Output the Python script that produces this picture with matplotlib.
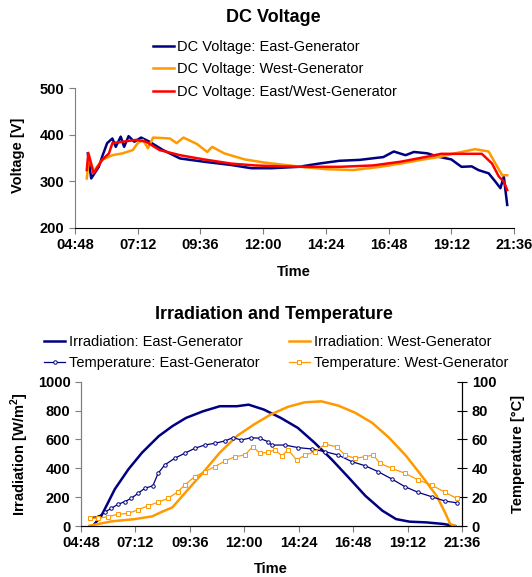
import numpy as np
import matplotlib.pyplot as plt

plt.rcParams['font.family'] = ['Liberation Sans', 'DejaVu Sans']
plt.rcParams['mathtext.fontset'] = 'custom'
plt.rcParams['mathtext.bf'] = 'Liberation Sans:bold'
plt.rcParams['mathtext.rm'] = 'Liberation Sans'

# DC voltage (time in hours, volts)
t_east = [5.29, 5.42, 5.71, 5.84, 6.03, 6.23, 6.36, 6.55, 6.68, 6.85, 7.07, 7.33, 7.65, 8.17,
          8.82, 9.73, 10.77, 11.55, 12.32, 13.36, 14.14, 14.92, 15.70, 16.6, 17.0, 17.45,
          17.77, 18.29, 18.68, 19.2, 19.59, 19.98, 20.24, 20.63, 20.89, 21.08, 21.21, 21.34]
v_east = [360, 306, 331, 353, 382, 392, 374, 396, 374, 397, 385, 394, 385, 367,
          349, 342, 335, 328, 328, 331, 338, 344, 346, 352, 364, 356,
          363, 360, 353, 347, 331, 332, 324, 317, 299, 285, 310, 249]

t_west = [5.25, 5.34, 5.51, 5.84, 6.23, 6.62, 7.01, 7.2, 7.4, 7.59, 7.79, 8.43, 8.69, 8.95,
          9.47, 9.86, 10.05, 10.51, 11.29, 12.07, 12.85, 13.62, 14.4, 15.44, 16.48, 17.26,
          18.04, 18.81, 19.33, 20.11, 20.63, 20.89, 21.15, 21.34]
v_west = [306, 353, 321, 346, 356, 360, 367, 382, 389, 371, 394, 392, 382, 394,
          380, 363, 374, 360, 347, 340, 335, 330, 326, 324, 331, 338,
          346, 353, 360, 369, 364, 338, 313, 313]

t_ew = [5.25, 5.31, 5.51, 5.84, 6.1, 6.23, 6.62, 7.14, 7.52, 8.04, 8.82, 9.73, 10.77, 11.68,
        12.72, 13.62, 14.92, 16.21, 17.26, 18.29, 18.81, 19.46, 20.37, 20.76, 21.02, 21.21, 21.34]
v_ew = [324, 361, 317, 346, 360, 382, 385, 389, 385, 367, 356, 347, 338, 334,
        332, 331, 331, 334, 342, 353, 359, 359, 359, 338, 310, 299, 281]

# Irradiation (W/m2)
t_irr_e = [5.32, 5.7, 6.29, 6.89, 7.49, 8.23, 8.83, 9.43, 10.18, 10.92, 11.67, 12.19, 12.86,
           13.61, 14.36, 15.1, 15.85, 16.6, 17.34, 18.09, 18.69, 19.29, 20.03, 20.78, 21.3]
irr_e = [0, 71, 255, 393, 508, 623, 692, 749, 795, 830, 830, 841, 807,
         749, 680, 577, 462, 336, 209, 106, 48, 30, 25, 14, 0]

t_irr_w = [5.17, 6.14, 7.19, 7.94, 8.38, 8.83, 9.43, 10.18, 10.92, 11.67, 12.42, 13.16, 13.91,
           14.66, 15.4, 16.15, 16.9, 17.64, 18.39, 19.14, 19.88, 20.48, 20.85, 21.08, 21.3]
irr_w = [2, 32, 48, 67, 99, 129, 237, 370, 508, 623, 703, 772, 825,
         857, 864, 834, 784, 715, 611, 485, 336, 209, 94, 14, 0]

# Module temperature (deg C)
t_tmp_e = [5.18, 5.55, 5.84, 6.14, 6.43, 6.73, 7.02, 7.31, 7.61, 7.97, 8.20, 8.49, 8.93, 9.37,
           9.81, 10.25, 10.69, 11.14, 11.50, 11.87, 12.31, 12.68, 13.05, 13.21, 13.79, 14.38,
           14.97, 15.56, 16.14, 16.74, 17.32, 17.91, 18.50, 19.09, 19.67, 20.26, 20.85, 21.36]
tmp_e = [5.8, 6.5, 9.5, 12.3, 15.0, 16.9, 19.2, 22.6, 26.1, 27.9, 36.5, 42.3, 46.9, 50.4,
         53.8, 56.1, 57.3, 58.9, 61.2, 59.6, 61.2, 60.8, 58.4, 56.1, 56.1, 54.3,
         53.4, 51.5, 49.2, 44.6, 41.8, 37.6, 32.6, 27.2, 23.3, 20.3, 17.3, 16.1]

t_tmp_w = [5.18, 5.55, 5.99, 6.43, 6.87, 7.31, 7.76, 8.20, 8.64, 9.08, 9.37, 9.81, 10.25, 10.69,
           11.14, 11.58, 12.02, 12.38, 12.68, 13.05, 13.36, 13.65, 13.94, 14.31, 14.68, 15.12,
           15.56, 16.07, 16.44, 16.88, 17.32, 17.69, 17.98, 18.50, 19.09, 19.67, 20.26, 20.85,
           21.36]
tmp_w = [5.3, 5.3, 6.5, 8.1, 8.8, 11.1, 14.1, 16.4, 19.2, 23.8, 28.4, 34.2, 37.6, 41.1,
         45.0, 48.0, 49.2, 55.0, 50.4, 51.1, 52.7, 48.7, 52.7, 45.7, 49.2, 51.5,
         56.6, 55.0, 49.2, 46.9, 48.0, 49.2, 43.4, 40.0, 36.5, 31.9, 28.4, 23.3,
         19.2]

xticks = [4.8, 7.2, 9.6, 12.0, 14.4, 16.8, 19.2, 21.6]
xlabels = ['04:48', '07:12', '09:36', '12:00', '14:24', '16:48', '19:12', '21:36']

navy = '#000080'
orange = '#FF9900'
red = '#FF0000'
W, H = 532, 577

fig = plt.figure(figsize=(W / 100, H / 100), dpi=100)


def style(ax):
    ax.spines['top'].set_visible(False)
    ax.spines['bottom'].set_color('black')
    ax.spines['left'].set_color('#7f7f7f')
    ax.spines['right'].set_color('black')
    ax.tick_params(direction='out', length=4, color='#7f7f7f', labelsize=10.5)
    for lab in ax.get_xticklabels() + ax.get_yticklabels():
        lab.set_fontweight('bold')


# --- DC Voltage ---
ax1 = fig.add_axes([75 / W, 1 - 227.7 / H, 439 / W, 139.4 / H])
ax1.plot(t_east, v_east, color=navy, lw=1.8, label='DC Voltage: East-Generator')
ax1.plot(t_west, v_west, color=orange, lw=1.8, label='DC Voltage: West-Generator')
ax1.plot(t_ew, v_ew, color=red, lw=1.8, label='DC Voltage: East/West-Generator')
ax1.set_xlim(4.8, 21.6)
ax1.set_ylim(200, 500)
ax1.set_yticks([200, 300, 400, 500])
ax1.set_xticks(xticks)
ax1.set_xticklabels(xlabels)
ax1.spines['right'].set_visible(False)
style(ax1)
fig.text(273 / W, 1 - 18 / H, 'DC Voltage', ha='center', va='center', fontsize=13, fontweight='bold')
fig.text(294 / W, 1 - 272 / H, 'Time', ha='center', va='center', fontsize=10.5, fontweight='bold')
fig.text(18.5 / W, 1 - 155 / H, 'Voltage [V]', ha='center', va='center', rotation=90,
         fontsize=10.5, fontweight='bold')
ax1.legend(loc='upper left', bbox_to_anchor=(152.7 / W, 1 - 40 / H), bbox_transform=fig.transFigure,
           frameon=False, fontsize=10.5, handlelength=1.46, handletextpad=0.2, labelspacing=0.58,
           borderaxespad=0, borderpad=0)

# --- Irradiation and Temperature ---
ax2 = fig.add_axes([81 / W, 1 - 526 / H, 381 / W, 144.3 / H])
ax3 = ax2.twinx()
l1, = ax2.plot(t_irr_e, irr_e, color=navy, lw=1.8, label='Irradiation: East-Generator')
l2, = ax2.plot(t_irr_w, irr_w, color=orange, lw=1.8, label='Irradiation: West-Generator')
l3, = ax3.plot(t_tmp_e, tmp_e, color=navy, lw=0.9, marker='o', ms=2.5, mfc='white', mew=0.7,
               label='Temperature: East-Generator')
l4, = ax3.plot(t_tmp_w, tmp_w, color=orange, lw=0.9, marker='s', ms=2.5, mfc='white', mew=0.7,
               label='Temperature: West-Generator')
ax2.set_xlim(4.8, 21.6)
ax2.set_ylim(0, 1000)
ax3.set_ylim(0, 100)
ax2.set_yticks(np.arange(0, 1001, 200))
ax3.set_yticks(np.arange(0, 101, 20))
ax2.set_xticks(xticks)
ax2.set_xticklabels(xlabels)
style(ax2)
style(ax3)
ax3.tick_params(direction='inout', length=7, color='black')
fig.text(274 / W, 1 - 315 / H, 'Irradiation and Temperature', ha='center', va='center',
         fontsize=13, fontweight='bold')
fig.text(271 / W, 1 - 569 / H, 'Time', ha='center', va='center', fontsize=10.5, fontweight='bold')
fig.text(20 / W, 1 - 454 / H, 'Irradiation [W/m$^\\mathbf{2}$]', ha='center', va='center',
         rotation=90, fontsize=10.5, fontweight='bold')
fig.text(518 / W, 1 - 454 / H, 'Temperature [°C]', ha='center', va='center', rotation=90,
         fontsize=10.5, fontweight='bold')
ax2.legend([l1, l3, l2, l4], [l.get_label() for l in [l1, l3, l2, l4]], ncol=2,
           loc='upper left', bbox_to_anchor=(44 / W, 1 - 335 / H), bbox_transform=fig.transFigure,
           frameon=False, fontsize=10.5, handlelength=1.46, handletextpad=0.25, labelspacing=0.48,
           columnspacing=2.0, borderaxespad=0, borderpad=0)

fig.savefig('out.png', dpi=100)
